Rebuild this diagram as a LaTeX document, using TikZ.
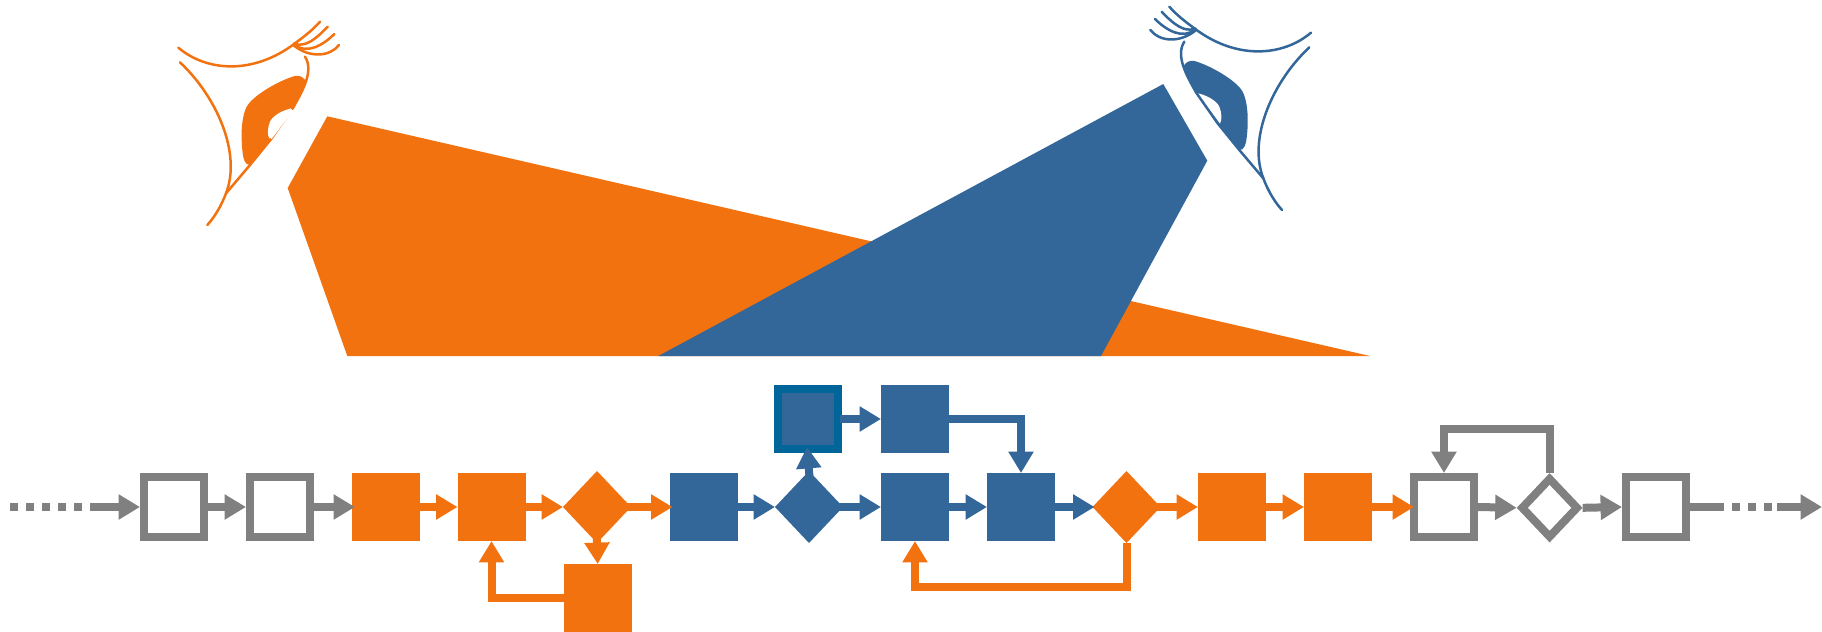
\documentclass[tikz,border=0pt]{standalone}
\usetikzlibrary{arrows.meta,shapes.geometric}
\definecolor{myorange}{HTML}{F37210}
\definecolor{myblue}{HTML}{336699}
\definecolor{mygray}{HTML}{808080}
\definecolor{myteal}{HTML}{006699}
\tikzset{
  solidbox/.style={rectangle,draw=none,fill=#1,inner sep=0pt,minimum width=34pt,minimum height=34pt,outer sep=0pt},
  hollowbox/.style={rectangle,draw=mygray,fill=white,line width=4pt,inner sep=0pt,minimum width=30pt,minimum height=30pt},
  tealbox/.style={rectangle,draw=myteal,fill=myblue,line width=4pt,inner sep=0pt,minimum width=30pt,minimum height=30pt},
  soliddia/.style={diamond,draw=none,fill=#1,inner sep=0pt,minimum width=34pt,minimum height=36pt,outer sep=0pt},
  hollowdia/.style={diamond,draw=mygray,fill=white,line width=4pt,miter limit=10,inner sep=0pt,minimum width=29pt,minimum height=30.5pt},
  flow/.style={draw=#1,line width=4pt,-{Triangle[length=10.7pt,width=12pt]},color=#1},
  plainflow/.style={draw=#1,line width=4pt},
  dots/.style={draw=#1,line width=4pt,dash pattern=on 4pt off 4pt},
  eyeline/.style={draw=#1,line width=1.25pt,line cap=round,fill=none},
}
\newcommand{\eyeblob}[1]{%
  \fill[#1] (300,495) .. controls (285,495) and (280,480) .. (277,450) .. controls (272,400) and (275,350) .. (290,320) .. controls (310,285) and (390,240) .. (435,228) .. controls (450,225) and (462,232) .. (468,245) -- (430,322) -- (365,415) -- cycle;
  \fill[white] (428,324) .. controls (400,330) and (370,345) .. (360,365) .. controls (352,385) and (352,405) .. (358,416) -- cycle;
}
\newcommand{\eyelines}[1]{%
  \draw[eyeline=#1] (85,143) .. controls (170,215) and (310,225) .. (435,130) .. controls (465,108) and (490,88) .. (510,65);
  \draw[eyeline=#1] (432,130) .. controls (465,145) and (500,115) .. (533,80);
  \draw[eyeline=#1] (432,133) .. controls (470,165) and (520,135) .. (553,102);
  \draw[eyeline=#1] (432,137) .. controls (480,175) and (540,170) .. (567,135);
  \draw[eyeline=#1] (90,187) .. controls (200,290) and (275,460) .. (228,580) .. controls (215,615) and (195,650) .. (172,675);
  \draw[eyeline=#1] (228,580) -- (300,495) -- (365,415) -- (430,322) .. controls (450,285) and (495,215) .. (465,170);
}
\begin{document}
\begin{tikzpicture}[x=0.5pt,y=-0.5pt]
\useasboundingbox (0,0) rectangle (1822,632);
% big shapes
\fill[myorange] (327.3,116.3) -- (287.7,188) -- (347.3,356) -- (1370,356) -- cycle;
\fill[myblue] (1163.3,84) -- (1207.3,160.7) -- (1101,356) -- (658.3,356) -- cycle;
% eyes
\begin{scope}[shift={(150,0)},scale=0.33333]
\eyeblob{myorange}
\eyelines{myorange}
\draw[white,line width=1.6pt] (361,414) -- (426,329);
\end{scope}
\begin{scope}[shift={(1339.33,-15)},xscale=-0.33333,yscale=0.33333]
\eyeblob{myblue}
\eyelines{myblue}
\end{scope}
% nodes
\node[hollowbox] (b1) at (174,507) {};
\node[hollowbox] (b2) at (280,507) {};
\node[solidbox=myorange] (b3) at (386,507) {};
\node[solidbox=myorange] (b4) at (491.5,507) {};
\node[soliddia=myorange] (d1) at (597,507) {};
\node[solidbox=myorange] (b5) at (597.7,598) {};
\node[solidbox=myblue] (b6) at (703.5,507) {};
\node[soliddia=myblue] (d2) at (809,507) {};
\node[tealbox] (b7) at (807.5,419) {};
\node[solidbox=myblue] (b8) at (915,419) {};
\node[solidbox=myblue] (b9) at (915,507) {};
\node[solidbox=myblue] (b10) at (1021,507) {};
\node[soliddia=myorange] (d3) at (1126.5,507) {};
\node[solidbox=myorange] (b11) at (1232,507) {};
\node[solidbox=myorange] (b12) at (1338,507) {};
\node[hollowbox] (b13) at (1444,507) {};
\node[hollowdia] (d4) at (1549.6,507.8) {};
\node[hollowbox] (b14) at (1656,507) {};
\coordinate (inS) at (10,507);
\coordinate (inM) at (90,507);
\coordinate (outM) at (1716,507);
\coordinate (outN) at (1777,507);
\coordinate (outE) at (1822,507);
% connectors
\draw[dots=mygray] (inS) -- (inM);
\draw[flow=mygray] (inM) -- (b1.west);
\draw[flow=mygray] (b1.east) -- (b2.west);
\draw[flow=mygray,shorten >=-1.5pt] (b2.east) -- (b3.west);
\draw[flow=myorange] (b3.east) -- (b4.west);
\draw[flow=myorange] (b4.east) -- (d1.west);
\draw[flow=myorange,shorten <=-3pt,shorten >=-1.5pt] (d1.east) -- (b6.west);
\draw[flow=myorange] (b5.west) -| (b4.south);
\draw[flow=myorange,shorten <=-3pt] (d1.south) -- (b5.north);
\draw[flow=myblue] (b6.east) -- (d2.west);
\draw[flow=myblue,shorten <=-3pt,shorten >=-3pt] (d2.north) -- (b7.south);
\draw[flow=myblue,shorten <=-3pt] (d2.east) -- (b9.west);
\draw[flow=myblue,shorten <=-1pt] (b7.east) -- (b8.west);
\draw[flow=myblue] (b8.east) -| (b10.north);
\draw[flow=myblue] (b9.east) -- (b10.west);
\draw[flow=myblue,shorten >=-1pt] (b10.east) -- (d3.west);
\draw[flow=myorange,shorten <=-3pt] (d3.east) -- (b11.west);
\draw[flow=myorange] (d3.south) -- ++(0,44) -| (b9.south);
\draw[flow=myorange] (b11.east) -- (b12.west);
\draw[flow=myorange,shorten >=-2pt] (b12.east) -- (b13.west);
\draw[flow=mygray] (b13.east) -- (d4.west);
\draw[flow=mygray] (d4.north) -- ++(0,-44) -| (b13.north);
\draw[flow=mygray] (d4.east) -- (b14.west);
\draw[plainflow=mygray] (b14.east) -- (outM);
\draw[dots=mygray] (outM) -- (outN);
\draw[flow=mygray] (outN) -- (outE);
\end{tikzpicture}
\end{document}
